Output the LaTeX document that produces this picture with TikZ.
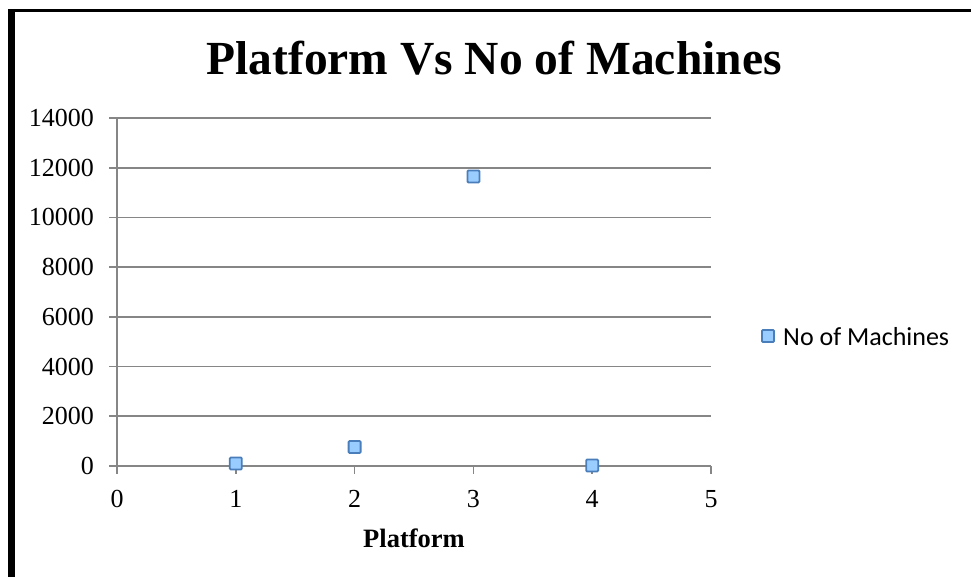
\documentclass[tikz,border=0pt]{standalone}
\usepackage{fontspec}
\setmainfont{Liberation Serif}
\newfontfamily\legendfont{Carlito}
\definecolor{gridgray}{HTML}{868686}
\definecolor{markfill}{HTML}{99CCFF}
\definecolor{markline}{HTML}{4A7EBB}
\tikzset{
  gridline/.style={draw=gridgray, line width=1.6pt},
  ticklabel/.style={inner sep=0pt, font=\fontsize{26}{30}\selectfont},
  datamark/.style={draw=markline, fill=markfill, line width=1.8pt,
    minimum size=12pt, inner sep=0pt, rounded corners=1pt},
  charttitle/.style={inner sep=0pt, anchor=base, font=\fontsize{47.5}{57}\selectfont\bfseries},
  axistitle/.style={inner sep=0pt, anchor=base, font=\fontsize{26.5}{30}\selectfont\bfseries},
  legendtext/.style={inner sep=0pt, anchor=base west, font=\legendfont\fontsize{26}{30}\selectfont}
}
\begin{document}
\begin{tikzpicture}[x=1pt, y=-1pt]
  \useasboundingbox (0,0) rectangle (971,577);
  \fill[white] (0,0) rectangle (971,577);
  % heavy frame on the top and left edges
  \fill[black] (8,9) rectangle (971,12.5);
  \fill[black] (8,9) rectangle (14.5,577);

  % chart title
  \node[charttitle] (title) at (494,75) {Platform Vs No of Machines};

  % horizontal gridlines and value labels
  \foreach \k in {0,...,7} {
    \pgfmathsetmacro\yy{466-\k*348/7}
    \pgfmathtruncatemacro\lab{\k*2000}
    \draw[gridline] (109,\yy) -- (711,\yy);
    \node[ticklabel, anchor=east] (yl\k) at (94,\yy) {\lab};
  }
  % vertical axis
  \draw[gridline] (117,118) -- (117,474);

  % category ticks and labels
  \foreach \i in {0,...,5} {
    \pgfmathsetmacro\xx{117+\i*118.8}
    \draw[gridline] (\xx,466) -- (\xx,474);
    \node[ticklabel, anchor=north] (xl\i) at (\xx,490) {\i};
  }

  % axis title
  \node[axistitle] (xtitle) at (414,547) {Platform};

  % data points (value scale: 14000 -> 348 units, values given in thousands)
  \foreach \i/\v in {1/0.1, 2/0.765, 3/11.65, 4/0.02} {
    \pgfmathsetmacro\xx{117+\i*118.8}
    \pgfmathsetmacro\yy{466-\v*348/14}
    \node[datamark] (p\i) at (\xx,\yy) {};
  }

  % legend
  \node[datamark] (legmark) at (768,336) {};
  \node[legendtext] (legtext) at (783,345) {No of Machines};
\end{tikzpicture}
\end{document}
